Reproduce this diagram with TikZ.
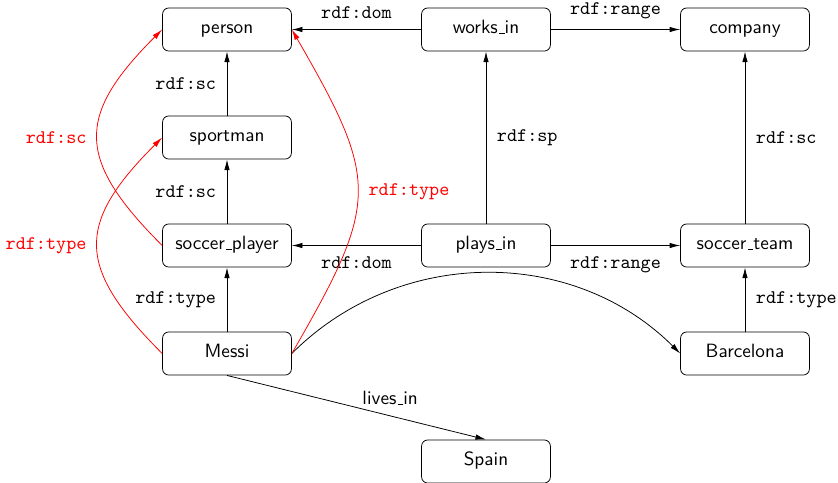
\documentclass[tikz,border=0pt]{standalone}
\usetikzlibrary{arrows.meta}
% low underscore bar sitting on the baseline
\newcommand\rulebar{\leavevmode\kern.06em\vbox{\hrule width.3em}}
\begin{document}
\begin{tikzpicture}[x=0.52pt,y=0.52pt,
  box/.style={draw, rounded corners=3.2pt, minimum width=67pt, minimum height=22.4pt,
    inner sep=0pt, text height=6.9pt, text depth=2.3pt, font=\sffamily},
  arr/.style={-{Latex[length=5.5pt,width=2.8pt]}},
  rarr/.style={arr, red},
  lbl/.style={font=\ttfamily, inner sep=5.5pt},
  rlbl/.style={lbl, text=red}]
\useasboundingbox (0,0) rectangle (838,-482);

% classes and properties
\node[box] (person)   at (227,-29.5)  {person};
\node[box] (works)    at (486,-29.5)  {works\rulebar in};
\node[box] (company)  at (745,-29.5)  {company};
\node[box] (sportman) at (227,-137.5) {sportman};
\node[box] (player)   at (227,-245.5) {soccer\rulebar player};
\node[box] (plays)    at (486,-245.5) {plays\rulebar in};
\node[box] (team)     at (745,-245.5) {soccer\rulebar team};
% instances
\node[box] (messi)    at (227,-353.5) {Messi};
\node[box] (barca)    at (745,-353.5) {Barcelona};
\node[box] (spain)    at (486,-461.5) {Spain};

% schema edges
\draw[arr] (works) -- node[above,lbl] {rdf:dom} (person);
\draw[arr] (works) -- node[above,lbl] {rdf:range} (company);
\draw[arr] (sportman) -- node[left,lbl] {rdf:sc} (person);
\draw[arr] (player) -- node[left,lbl] {rdf:sc} (sportman);
\draw[arr] (plays) -- node[below,lbl] {rdf:dom} (player);
\draw[arr] (plays) -- node[below,lbl] {rdf:range} (team);
\draw[arr] (plays) -- node[right,lbl] {rdf:sp} (works);
\draw[arr] (team) -- node[right,lbl] {rdf:sc} (company);

% instance edges
\draw[arr] (messi) -- node[left,lbl] {rdf:type} (player);
\draw[arr] (barca) -- node[right,lbl] {rdf:type} (team);
\draw[arr] (messi.east) to[bend left=45] (barca.west);
\draw[arr] (messi.south) -- node[pos=0.63,above,font=\sffamily,inner sep=5.5pt] {lives\rulebar in} (spain.north);

% inferred edges
\draw[rarr] (player.west) to[out=135,in=225,looseness=1.45]
  node[left,rlbl] {rdf:sc} (person.west);
\draw[rarr] (messi.west) to[out=135,in=225,looseness=1.45]
  node[left,rlbl] {rdf:type} (sportman.west);
\draw[rarr] (messi.east) to[out=60,in=300,looseness=1.39]
  node[right,rlbl] {rdf:type} (person.east);
\end{tikzpicture}
\end{document}
